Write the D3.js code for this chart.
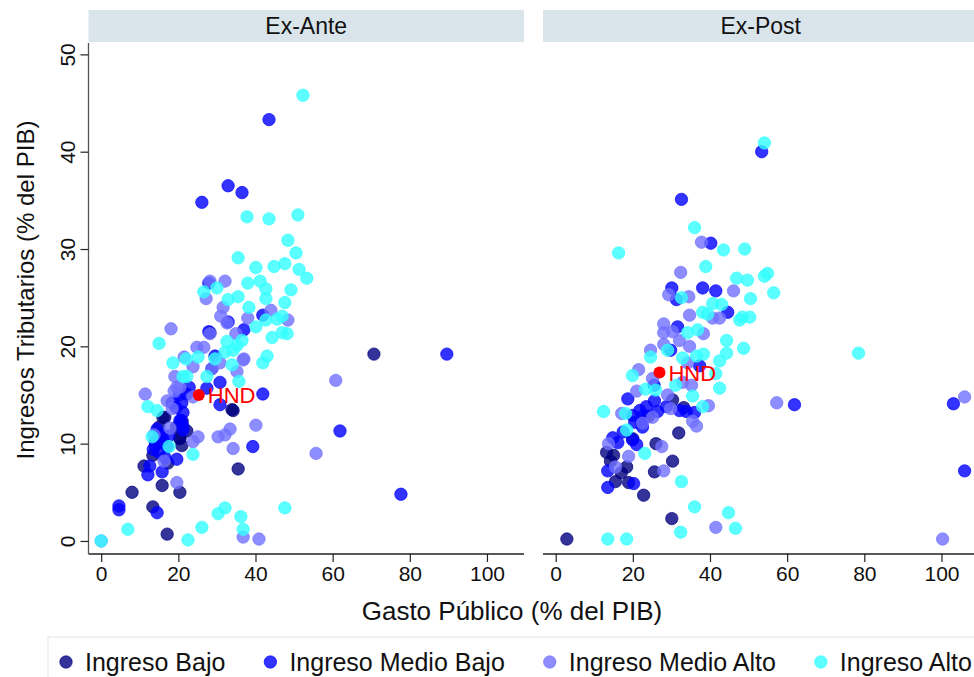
<!DOCTYPE html>
<html>
<head>
<meta charset="utf-8">
<script src="https://cdn.jsdelivr.net/npm/d3@7"></script>
<style>
  body { margin: 0; background: #fff; }
  svg { display: block; font-family: "Liberation Sans", Arial, sans-serif; }
</style>
</head>
<body>
<div id="chart"></div>
<script>
// Panels and groups
const panels = ["Ex-Ante", "Ex-Post"];
const groups = ["Ingreso Bajo", "Ingreso Medio Bajo", "Ingreso Medio Alto", "Ingreso Alto"];
const groupColors = ["#000080", "#0000ff", "#7070ff", "#33ffff"];

const xTicks = [0, 20, 40, 60, 80, 100];
const yTicks = [0, 10, 20, 30, 40, 50];

// [gasto, ingresos]
const exAnteBajo = [
  [70.7,19.2],[33.9,13.5],[35.5,7.4],[16.5,12.7],[20.4,10.5],[20.9,9.8],[13.4,8.8],[11.1,7.7],
  [17.3,8.0],[15.8,5.7],[8.0,5.0],[13.4,3.5],[17.1,0.7],[20.4,5.0],[16.0,12.7],[15.0,11.7],
  [22.2,11.3],[20.4,10.6],[14.0,10.2],[19.5,11.7],[21.0,12.3],[28.2,21.4],[34.2,13.4]
];
const exAnteMedioBajo = [
  [43.5,43.3],[32.9,36.5],[36.5,35.8],[26.1,34.8],[27.9,26.5],[41.9,23.2],[32.9,22.5],[37.0,21.7],
  [27.9,21.5],[29.5,19.0],[30.8,16.3],[28.7,17.7],[22.8,15.8],[27.4,15.7],[20.2,15.0],[30.8,14.0],
  [41.9,15.1],[18.4,14.2],[21.2,13.2],[20.4,12.4],[21.2,11.4],[22.2,15.1],[20.9,14.2],[19.4,13.7],
  [20.7,12.4],[21.2,11.8],[14.5,11.5],[15.2,10.2],[17.1,9.7],[15.0,9.1],[12.6,7.7],[12.1,6.8],
  [15.8,7.1],[19.6,8.4],[4.6,3.6],[4.6,3.2],[14.5,2.9],[39.3,9.7],[61.9,11.3],[89.6,19.2],
  [77.7,4.8],[16.0,10.5],[17.5,10.8],[14.0,9.8],[16.5,8.6],[13.5,9.4],[15.5,10.9]
];
const exAnteMedioAlto = [
  [28.2,26.7],[32.1,26.7],[27.2,24.9],[31.6,24.0],[31.0,23.1],[32.6,22.4],[38.0,22.9],[44.0,23.7],
  [48.4,22.7],[18.1,21.8],[28.2,21.3],[34.9,21.3],[26.6,19.9],[24.8,19.9],[21.5,18.9],[37.0,18.7],
  [23.8,17.9],[30.8,18.3],[35.2,17.4],[28.7,17.7],[19.1,16.9],[20.4,15.8],[11.4,15.1],[23.8,14.8],
  [17.1,14.4],[18.4,13.6],[18.9,15.4],[40.1,11.9],[33.4,11.5],[30.3,10.7],[32.1,10.9],[25.1,10.7],
  [23.8,10.2],[17.8,11.6],[13.7,10.9],[34.2,9.5],[16.3,8.2],[19.6,6.0],[36.8,0.4],[40.9,0.2],
  [55.7,9.0],[60.8,16.5],[36.8,18.6],[19.6,15.8],[0,0]
];
const exAnteAlto = [
  [52.3,45.8],[37.8,33.3],[43.5,33.1],[51.0,33.5],[48.4,30.9],[50.5,29.6],[35.5,29.1],[40.1,28.1],
  [44.8,28.2],[47.6,28.5],[51.3,27.9],[53.3,27.0],[38.0,26.5],[41.2,26.7],[42.7,25.9],[49.2,25.8],
  [26.6,25.6],[30.0,26.0],[35.5,25.1],[32.9,24.8],[42.7,24.9],[47.6,24.5],[38.3,24.0],[46.9,23.1],
  [45.6,22.8],[42.7,22.7],[40.1,22.0],[44.3,20.9],[46.9,21.4],[48.2,21.3],[15.0,20.3],[32.6,20.5],
  [35.2,20.1],[36.5,20.6],[34.2,19.6],[32.1,19.4],[25.1,18.9],[18.6,18.3],[22.0,18.7],[29.5,18.7],
  [33.9,18.1],[43.0,19.0],[41.9,18.3],[21.2,16.9],[22.2,16.9],[27.4,16.9],[35.7,16.4],[12.1,13.8],
  [14.5,13.4],[13.2,10.7],[17.6,9.7],[23.8,8.9],[0,0],[6.9,1.2],[22.5,0.1],[26.1,1.4],
  [30.3,2.8],[32.1,3.4],[36.2,2.5],[36.8,1.2],[47.6,3.4]
];

const exPostBajo = [
  [30.3,14.5],[33.2,13.7],[31.9,11.1],[13.2,9.1],[14.2,8.2],[18.4,7.6],[15.5,6.1],[18.9,6.0],
  [25.6,7.1],[30.3,8.2],[22.8,4.7],[30.1,2.3],[2.9,0.2],[24.0,12.8],[20.0,10.5],[15.0,8.8],
  [26.0,10.0],[17.0,7.0]
];
const exPostMedioBajo = [
  [53.4,40.0],[32.6,35.1],[40.2,30.6],[30.1,26.0],[38.1,26.0],[41.5,25.7],[44.6,23.5],[31.3,24.8],
  [31.6,22.0],[29.8,19.6],[37.3,18.0],[18.7,14.6],[25.6,14.4],[21.8,13.4],[22.8,12.9],[19.9,12.9],
  [22.3,12.1],[22.5,11.7],[28.7,13.8],[32.1,13.4],[33.9,13.3],[36.0,13.2],[16.1,10.1],[14.8,10.6],
  [19.9,10.4],[21.0,9.9],[13.5,7.2],[13.5,5.5],[20.2,5.9],[61.9,14.0],[103.1,14.1],[106.0,7.2],
  [26.4,13.3],[20.5,12.2],[23.5,13.8],[17.5,11.2],[25.5,16.0]
];
const exPostMedioAlto = [
  [34.7,23.2],[28.0,22.3],[28.0,21.4],[30.3,21.5],[32.1,20.6],[34.7,20.0],[38.3,21.3],[28.0,20.2],
  [24.6,19.6],[40.7,22.9],[42.5,22.9],[37.8,30.7],[32.4,27.6],[29.3,25.3],[34.5,25.1],[46.1,25.7],
  [34.2,18.3],[21.5,17.6],[25.1,16.7],[32.9,16.3],[35.2,16.0],[21.0,15.4],[29.0,15.0],[29.8,13.6],
  [39.6,13.9],[17.1,13.1],[25.1,12.7],[22.5,12.1],[35.5,12.3],[36.5,11.8],[18.9,8.7],[27.5,9.7],
  [28.0,7.2],[15.5,7.6],[13.7,10.0],[57.3,14.2],[41.5,1.4],[100.3,0.2],[106.0,14.8]
];
const exPostAlto = [
  [54.1,40.9],[36.0,32.2],[16.3,29.6],[43.5,29.9],[49.0,30.0],[38.9,28.2],[46.9,27.0],[49.7,26.8],
  [54.1,27.2],[54.9,27.5],[56.5,25.5],[50.5,24.9],[32.6,25.0],[40.7,24.4],[43.0,24.3],[38.1,23.5],
  [39.4,23.3],[48.4,23.0],[50.3,23.0],[47.7,22.7],[48.7,19.8],[34.2,21.4],[36.8,21.7],[44.3,20.6],
  [29.0,19.6],[36.5,19.0],[38.3,19.2],[32.9,18.8],[42.5,18.5],[44.3,19.3],[24.6,18.9],[19.9,17.0],
  [23.3,15.6],[25.9,15.5],[31.1,16.0],[35.5,14.9],[42.5,15.7],[41.5,17.2],[38.1,13.8],[12.4,13.3],
  [18.1,13.1],[18.4,11.4],[23.1,9.0],[32.6,6.1],[36.0,3.5],[44.8,2.9],[46.6,1.3],[32.4,0.9],
  [13.5,0.2],[18.4,0.2],[78.5,19.3]
];

const hnd = [[25.3, 15.0], [26.9, 17.3]];

const panelData = [
  [exAnteBajo, exAnteMedioBajo, exAnteMedioAlto, exAnteAlto],
  [exPostBajo, exPostMedioBajo, exPostMedioAlto, exPostAlto]
];

const width = 974, height = 677;
const panelLeft = [88.5, 543];
const panelWidth = 435.5;
const plotTop = 43, plotBottom = 554;

const svg = d3.select("#chart").append("svg")
  .attr("width", width)
  .attr("height", height);

const y = d3.scaleLinear().domain([-1.34, 51.17]).range([plotBottom, plotTop]);

panels.forEach((name, p) => {
  const x = d3.scaleLinear().domain([-3.29, 109.6])
    .range([panelLeft[p], panelLeft[p] + panelWidth]);

  // header strip
  svg.append("rect")
    .attr("x", panelLeft[p])
    .attr("y", 10)
    .attr("width", panelWidth)
    .attr("height", 32)
    .attr("fill", "#d9e5eb");
  svg.append("text")
    .attr("x", panelLeft[p] + panelWidth / 2)
    .attr("y", 34)
    .attr("text-anchor", "middle")
    .attr("font-size", "23px")
    .attr("fill", "#111")
    .text(name);

  // x axis
  const xAxis = svg.append("g")
    .attr("transform", `translate(0,${plotBottom})`)
    .call(d3.axisBottom(x).tickValues(xTicks).tickSize(8).tickPadding(4).tickFormat(d3.format("d")));
  xAxis.select(".domain").attr("stroke", "#222").attr("stroke-width", 1.3)
    .attr("d", `M${panelLeft[p]},0H${panelLeft[p] + panelWidth}`);
  xAxis.selectAll(".tick line").attr("stroke", "#222").attr("stroke-width", 1.2);
  xAxis.selectAll(".tick text")
    .attr("font-size", "21px")
    .attr("font-family", "Liberation Sans, Arial, sans-serif")
    .attr("fill", "#111");

  // y axis only on the first panel
  if (p === 0) {
    const yAxis = svg.append("g")
      .attr("transform", `translate(${panelLeft[p]},0)`)
      .call(d3.axisLeft(y).tickValues(yTicks).tickSize(8).tickFormat(d3.format("d")));
    yAxis.select(".domain").attr("stroke", "#555").attr("stroke-width", 1.3)
      .attr("d", `M0,${plotTop}V${plotBottom}`);
    yAxis.selectAll(".tick line").attr("stroke", "#222").attr("stroke-width", 1.2);
    yAxis.selectAll(".tick text")
      .attr("font-size", "21px")
      .attr("font-family", "Liberation Sans, Arial, sans-serif")
      .attr("fill", "#111")
      .attr("text-anchor", "middle")
      .attr("x", null)
      .attr("dy", null)
      .attr("transform", "translate(-14,0) rotate(-90)");
  }

  const plot = svg.append("g");
  groups.forEach((g, i) => {
    plot.selectAll(null)
      .data(panelData[p][i])
      .enter().append("circle")
      .attr("cx", d => x(d[0]))
      .attr("cy", d => y(d[1]))
      .attr("r", 6.2)
      .attr("fill", groupColors[i])
      .attr("fill-opacity", 0.8)
      .attr("stroke", groupColors[i])
      .attr("stroke-opacity", 0.85)
      .attr("stroke-width", 0.8);
  });

  // Honduras
  plot.append("circle")
    .attr("cx", x(hnd[p][0]))
    .attr("cy", y(hnd[p][1]))
    .attr("r", 6)
    .attr("fill", "#ff0000");
  plot.append("text")
    .attr("x", x(hnd[p][0]) + 9)
    .attr("y", y(hnd[p][1]) + 8)
    .attr("font-size", "22px")
    .attr("fill", "#ff0000")
    .text("HND");
});

// axis titles
svg.append("text")
  .attr("x", 512)
  .attr("y", 620)
  .attr("text-anchor", "middle")
  .attr("font-size", "26px")
  .attr("fill", "#111")
  .text("Gasto Público (% del PIB)");

svg.append("text")
  .attr("transform", "translate(34,290) rotate(-90)")
  .attr("text-anchor", "middle")
  .attr("font-size", "24px")
  .attr("fill", "#111")
  .text("Ingresos Tributarios (% del PIB)");

// legend
svg.append("rect")
  .attr("x", 48)
  .attr("y", 637)
  .attr("width", 960)
  .attr("height", 60)
  .attr("fill", "none")
  .attr("stroke", "#e3e3e3")
  .attr("stroke-width", 1);

let lx = 66;
groups.forEach((g, i) => {
  svg.append("circle")
    .attr("cx", lx)
    .attr("cy", 662)
    .attr("r", 6.2)
    .attr("fill", groupColors[i])
    .attr("fill-opacity", 0.8)
    .attr("stroke", groupColors[i])
    .attr("stroke-opacity", 0.85)
    .attr("stroke-width", 0.8);
  const t = svg.append("text")
    .attr("x", lx + 19)
    .attr("y", 671)
    .attr("font-size", "25px")
    .attr("fill", "#111")
    .text(g);
  lx += 19 + t.node().getComputedTextLength() + 45;
});
</script>
</body>
</html>
